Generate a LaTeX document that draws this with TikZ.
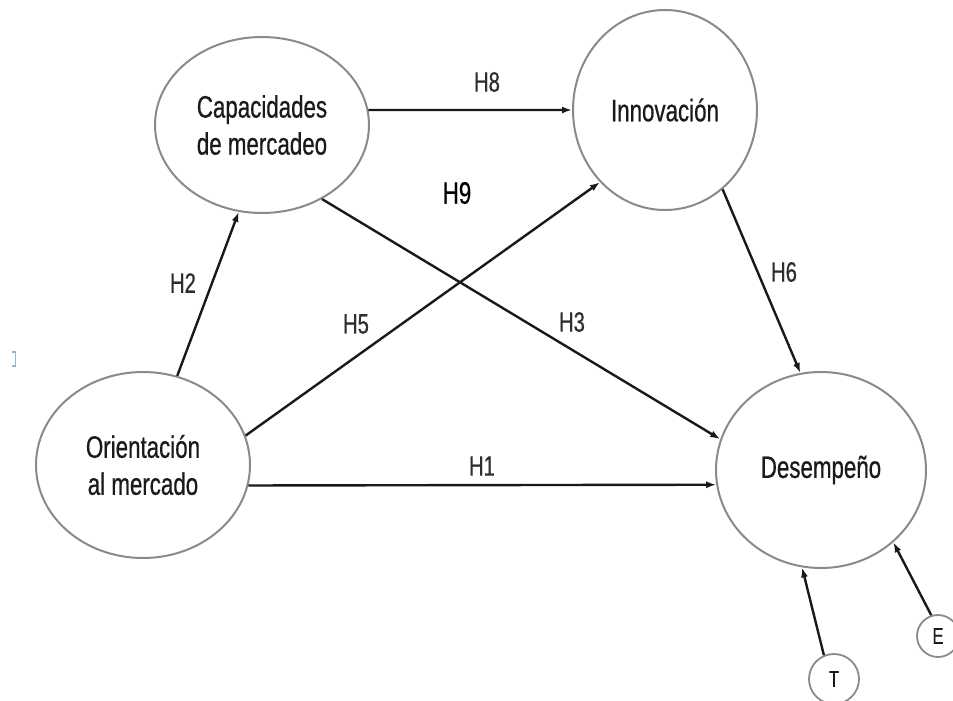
\documentclass[tikz,border=0pt]{standalone}
\usepackage{fontspec}
\setmainfont{Liberation Sans}[FakeStretch=0.72,FakeBold=0.6]
\usetikzlibrary{shapes.geometric,arrows.meta}
\definecolor{rimgray}{HTML}{8A8A8A}
\definecolor{inkdark}{HTML}{1A1A1A}
\definecolor{labelgray}{HTML}{2E2E2E}
\definecolor{markblue}{HTML}{8DB6DA}
\begin{document}
\begin{tikzpicture}[x=1pt,y=-1pt,
  construct/.style={ellipse,draw=rimgray,line width=2pt,inner sep=0pt,
    text=inkdark,align=center,font={\fontsize{31}{37}\selectfont}},
  errnode/.style={circle,draw=rimgray,line width=1.8pt,inner sep=0pt,
    text=inkdark,font={\fontsize{23}{26}\selectfont}},
  path/.style={line width=2.4pt,draw=black!90,-{Latex[length=10pt,width=7pt]}},
  hlabel/.style={text=labelgray,font={\fontsize{28}{32}\selectfont}}]
\useasboundingbox (0,0) rectangle (953,701);

% latent constructs
\node[construct,minimum width=214pt,minimum height=176pt] (cap) at (262,125) {Capacidades\\de mercadeo};
\node[construct,minimum width=184pt,minimum height=200pt] (inn) at (665,110) {Innovación};
\node[construct,minimum width=214pt,minimum height=186pt] (ori) at (143,465) {Orientación\\al mercado};
\node[construct,minimum width=210pt,minimum height=196pt] (des) at (821,470) {Desempeño};

% control variables
\node[errnode,minimum size=50pt] (t) at (834,679) {T};
\node[errnode,minimum size=42pt] (e) at (938,636) {E};

% hypothesised paths
\draw[path] (cap.8) -- (inn.180);
\draw[path] (ori.69) -- (cap.-105);
\draw[path] (ori.16) -- (inn.-132);
\draw[path] (cap.-51) -- (des.163);
\draw[path] (inn.-54) -- (des.102);
\draw[path] (ori.-11.6) -- (des.188.7);
\draw[path] (t.113) -- (des.-101);
\draw[path] (e.108) -- (des.-45);

% path labels
\node[hlabel] (h8) at (487,82) {H8};
\node[hlabel] (h2) at (183,283) {H2};
\node[hlabel,font={\fontsize{31}{34}\selectfont},text=black] (h9) at (457,193) {H9};
\node[hlabel] (h5) at (356,324) {H5};
\node[hlabel] (h3) at (572,322) {H3};
\node[hlabel] (h6) at (784,272) {H6};
\node[hlabel] (h1) at (482,466) {H1};

% small bracket mark at the left margin
\draw[markblue,line width=1.2pt] (12,352) -- (15.5,352) -- (15.5,366) -- (12,366);
\end{tikzpicture}
\end{document}
